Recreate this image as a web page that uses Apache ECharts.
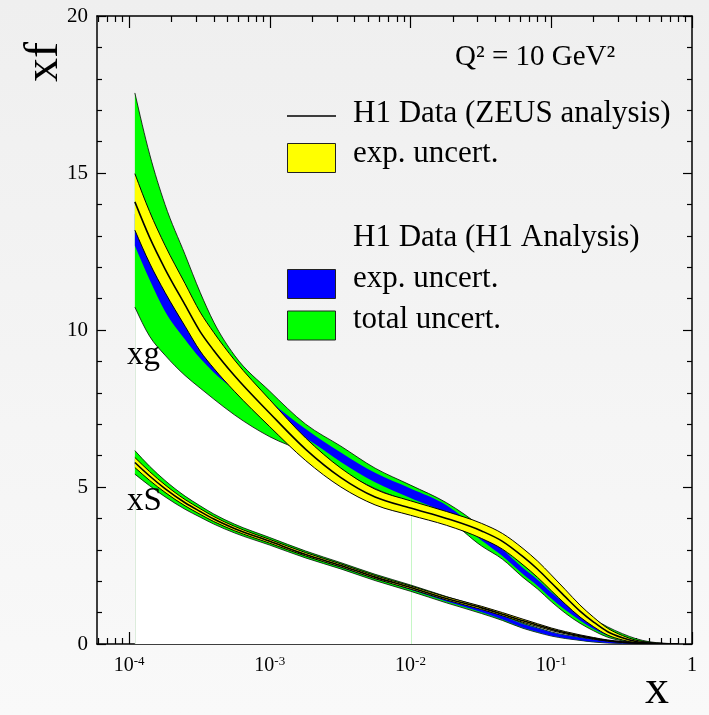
<!DOCTYPE html>
<html>
<head>
<meta charset="utf-8">
<script src="https://cdn.jsdelivr.net/npm/echarts@6/dist/echarts.min.js"></script>
<style>
html, body { margin: 0; padding: 0; }
body { width: 709px; height: 715px; background: linear-gradient(#efefef, #f9f9f9); }
#chart { width: 709px; height: 715px; }
</style>
</head>
<body>
<div id="chart"></div>
<script>
// Parton distributions at Q^2 = 10 GeV^2
const xValues = [1.1e-4, 1.4e-4, 1.8e-4, 2.5e-4, 3.2e-4, 4e-4, 5.6e-4, 1e-3, 1.8e-3, 3.2e-3, 5.6e-3, 1e-2,
  1.8e-2, 3.2e-2, 4.5e-2, 6.3e-2, 8e-2, 0.1, 0.126, 0.16, 0.2, 0.25, 0.32, 0.4, 0.5, 0.63, 0.8];

// gluon xg: ZEUS-style analysis (central + exp. band), H1 analysis (exp. and total bands)
const xgCentral = [14.08, 12.95, 11.95, 10.8, 9.95, 9.35, 8.55, 7.35, 6.2, 5.3, 4.68, 4.33, 4.0, 3.6, 3.27, 2.78, 2.38, 1.95, 1.5, 1.05, 0.7, 0.4, 0.2, 0.08, 0.03, 0.01, 0.003];
const xgZeusUp  = [14.98, 13.77, 12.7, 11.48, 10.57, 9.92, 9.05, 7.78, 6.56, 5.6, 4.93, 4.56, 4.22, 3.84, 3.52, 3.04, 2.64, 2.2, 1.73, 1.24, 0.85, 0.51, 0.27, 0.12, 0.05, 0.018, 0.006];
const xgZeusLo  = [13.18, 12.13, 11.2, 10.12, 9.33, 8.78, 8.05, 6.92, 5.84, 5.0, 4.43, 4.1, 3.78, 3.36, 3.02, 2.52, 2.12, 1.7, 1.27, 0.86, 0.55, 0.29, 0.13, 0.04, 0.01, 0.003, 0.001];
const xgTotUp   = [17.55, 15.6, 14.0, 12.4, 11.2, 10.25, 9.2, 8.05, 7.0, 6.3, 5.6, 5.06, 4.5, 3.72, 3.15, 2.55, 2.15, 1.75, 1.38, 1.05, 0.8, 0.55, 0.33, 0.17, 0.07, 0.025, 0.008];
const xgExpUp   = [13.7, 12.65, 11.7, 10.7, 10.0, 9.5, 8.85, 7.75, 6.85, 6.1, 5.45, 4.95, 4.42, 3.55, 3.02, 2.42, 2.05, 1.65, 1.27, 0.92, 0.62, 0.38, 0.2, 0.09, 0.03, 0.01, 0.003];
const xgExpLo   = [12.68, 11.6, 10.6, 9.7, 9.1, 8.65, 8.1, 7.15, 6.55, 5.8, 5.15, 4.65, 4.15, 3.3, 2.8, 2.22, 1.85, 1.45, 1.08, 0.75, 0.48, 0.27, 0.13, 0.05, 0.015, 0.004, 0.001];
const xgTotLo   = [10.73, 9.8, 9.2, 8.55, 8.15, 7.8, 7.3, 6.6, 6.1, 5.5, 4.95, 4.5, 4.0, 3.12, 2.7, 2.12, 1.75, 1.35, 0.98, 0.66, 0.42, 0.22, 0.1, 0.04, 0.01, 0.002, 0];

// sea quarks xS
const xsCentral = [5.78, 5.35, 4.95, 4.5, 4.22, 3.98, 3.68, 3.27, 2.85, 2.5, 2.13, 1.8, 1.45, 1.15, 0.95, 0.74, 0.6, 0.47, 0.36, 0.26, 0.18, 0.11, 0.06, 0.03, 0.012, 0.004, 0.001];
const xsZeusUp  = [5.94, 5.49, 5.07, 4.6, 4.31, 4.06, 3.75, 3.33, 2.91, 2.55, 2.18, 1.85, 1.5, 1.2, 1.0, 0.79, 0.645, 0.51, 0.395, 0.29, 0.205, 0.13, 0.075, 0.04, 0.017, 0.006, 0.002];
const xsZeusLo  = [5.62, 5.21, 4.83, 4.4, 4.13, 3.9, 3.61, 3.21, 2.8, 2.45, 2.08, 1.75, 1.4, 1.1, 0.9, 0.69, 0.555, 0.43, 0.325, 0.23, 0.155, 0.09, 0.045, 0.02, 0.007, 0.002, 0];
const xsTotUp   = [6.16, 5.66, 5.21, 4.71, 4.4, 4.14, 3.82, 3.39, 2.96, 2.59, 2.22, 1.88, 1.51, 1.17, 0.93, 0.66, 0.515, 0.385, 0.285, 0.205, 0.138, 0.09, 0.057, 0.028, 0.011, 0.004, 0.002];
const xsExpUp   = [5.9, 5.45, 5.04, 4.58, 4.29, 4.05, 3.74, 3.32, 2.9, 2.54, 2.17, 1.83, 1.465, 1.13, 0.9, 0.64, 0.5, 0.375, 0.275, 0.198, 0.132, 0.085, 0.053, 0.026, 0.01, 0.0035, 0.0018];
const xsExpLo   = [5.66, 5.25, 4.86, 4.42, 4.15, 3.92, 3.62, 3.22, 2.8, 2.44, 2.07, 1.73, 1.355, 1.01, 0.78, 0.52, 0.38, 0.265, 0.185, 0.122, 0.068, 0.035, 0.017, 0.006, 0.002, 0.0005, 0.0002];
const xsTotLo   = [5.41, 5.04, 4.69, 4.29, 4.04, 3.82, 3.54, 3.15, 2.74, 2.39, 2.02, 1.68, 1.31, 0.97, 0.75, 0.5, 0.365, 0.255, 0.175, 0.115, 0.062, 0.03, 0.013, 0.004, 0.001, 0, 0];

// axis ticks
const xMin = 5.92e-5;
const xMax = 1;
const xMajorTicks = [1e-4, 1e-3, 1e-2, 1e-1, 1];
const xDecades = [1e-5, 1e-4, 1e-3, 1e-2, 1e-1];
const xMinorSteps = [2, 3, 4, 5, 6, 7, 8, 9];
const xMinorTicks = [];
xDecades.forEach(d => xMinorSteps.forEach(m => { const v = d * m; if (v > xMin && v < xMax) xMinorTicks.push(v); }));
const yTickLabels = [0, 5, 10, 15, 20];

// faint seams of the white area (grid points where the fill was split)
const seamIndices = [0, 11];

const FONT = 'Liberation Serif';
const GREEN = '#00ff00', BLUE = '#0000ff', YELLOW = '#ffff00', WHITE = '#ffffff';

// ---- smooth curve helpers (monotone cubic through pixel points) ----
function sgn(v) { return v < 0 ? -1 : 1; }
function tangents(P) {
  const n = P.length, t = new Array(n);
  for (let i = 1; i < n - 1; i++) {
    const h0 = P[i][0] - P[i - 1][0], h1 = P[i + 1][0] - P[i][0];
    const s0 = (P[i][1] - P[i - 1][1]) / h0, s1 = (P[i + 1][1] - P[i][1]) / h1;
    const p = (s0 * h1 + s1 * h0) / (h0 + h1);
    t[i] = (sgn(s0) + sgn(s1)) * Math.min(Math.abs(s0), Math.abs(s1), 0.5 * Math.abs(p)) || 0;
  }
  const hA = P[1][0] - P[0][0];
  t[0] = hA ? (3 * (P[1][1] - P[0][1]) / hA - t[1]) / 2 : t[1];
  const hB = P[n - 1][0] - P[n - 2][0];
  t[n - 1] = hB ? (3 * (P[n - 1][1] - P[n - 2][1]) / hB - t[n - 2]) / 2 : t[n - 2];
  return t;
}
// bezier segments from point i to i+1
function segments(P) {
  const t = tangents(P), segs = [];
  for (let i = 0; i < P.length - 1; i++) {
    const dx = (P[i + 1][0] - P[i][0]) / 3;
    segs.push([P[i], [P[i][0] + dx, P[i][1] + dx * t[i]], [P[i + 1][0] - dx, P[i + 1][1] - dx * t[i + 1]], P[i + 1]]);
  }
  return segs;
}
const f = v => v.toFixed(2);
function forwardPath(segs) {
  let d = '';
  segs.forEach(s => { d += ' C' + f(s[1][0]) + ',' + f(s[1][1]) + ' ' + f(s[2][0]) + ',' + f(s[2][1]) + ' ' + f(s[3][0]) + ',' + f(s[3][1]); });
  return d;
}
function backwardPath(segs) {
  let d = '';
  for (let i = segs.length - 1; i >= 0; i--) {
    const s = segs[i];
    d += ' C' + f(s[2][0]) + ',' + f(s[2][1]) + ' ' + f(s[1][0]) + ',' + f(s[1][1]) + ' ' + f(s[0][0]) + ',' + f(s[0][1]);
  }
  return d;
}
function curvePts(api, ys) { return xValues.map((x, i) => api.coord([x, ys[i]])); }
function openCurve(api, ys) {
  const P = curvePts(api, ys);
  return 'M' + f(P[0][0]) + ',' + f(P[0][1]) + forwardPath(segments(P));
}
function closedBand(api, up, lo) {
  const U = curvePts(api, up), L = curvePts(api, lo);
  return 'M' + f(U[0][0]) + ',' + f(U[0][1]) + forwardPath(segments(U)) +
    ' L' + f(L[L.length - 1][0]) + ',' + f(L[L.length - 1][1]) + backwardPath(segments(L)) + ' Z';
}
function strokeEl(d, w) {
  return { type: 'path', shape: { pathData: d }, style: { fill: 'none', stroke: '#000', lineWidth: w, lineJoin: 'round' } };
}

// one custom series per band: fill plus optional outlines / central curve
function bandSeries(id, up, lo, color, edge, central) {
  return {
    type: 'custom', name: id, coordinateSystem: 'cartesian2d', xAxisIndex: 0, yAxisIndex: 0,
    silent: true, animation: false, clip: true,
    data: [[xValues[0], lo[0]]],
    renderItem: (params, api) => {
      const children = [{ type: 'path', shape: { pathData: closedBand(api, up, lo) }, style: { fill: color, stroke: 'none' } }];
      if (edge) {
        children.push(strokeEl(openCurve(api, up), edge));
        children.push(strokeEl(openCurve(api, lo), edge));
      }
      if (central) children.push(strokeEl(openCurve(api, central), 1.6));
      return { type: 'group', children: children };
    }
  };
}
const zeroLine = xValues.map(() => 0);

// light vertical seams inside the white area
const seamSeries = {
  type: 'custom', name: 'seams', coordinateSystem: 'cartesian2d', xAxisIndex: 0, yAxisIndex: 0,
  silent: true, animation: false, clip: true,
  data: seamIndices.map(i => [xValues[i], xgTotLo[i]]),
  renderItem: (params, api) => {
    const top = api.coord([api.value(0), api.value(1)]);
    const bottom = api.coord([api.value(0), 0]);
    const x = Math.round(top[0]) + 0.5;
    return {
      type: 'line', shape: { x1: x, y1: top[1], x2: x, y2: bottom[1] },
      style: { stroke: params.dataIndex === 0 ? '#dcecdc' : '#c6f7c6', lineWidth: 1 }
    };
  }
};

const series = [
  bandSeries('under-xg', xgTotLo, zeroLine, WHITE, 0),
  seamSeries,
  bandSeries('xg-total', xgTotUp, xgTotLo, GREEN, 0.8),
  bandSeries('xg-exp', xgExpUp, xgExpLo, BLUE, 0),
  bandSeries('xg-zeus', xgZeusUp, xgZeusLo, YELLOW, 1, xgCentral),
  bandSeries('xS-total', xsTotUp, xsTotLo, GREEN, 0.8),
  bandSeries('xS-exp', xsExpUp, xsExpLo, BLUE, 0),
  bandSeries('xS-zeus', xsZeusUp, xsZeusLo, YELLOW, 1, xsCentral)
];

const axisLineStyle = { show: true, onZero: false, lineStyle: { color: '#000', width: 1.5 } };
const tickLine = { color: '#000', width: 1.2 };
function xAxisDef(position, ticks, length, withLine, withLabels) {
  return {
    type: 'log', logBase: 10, min: xMin, max: xMax, position: position,
    axisLine: withLine ? axisLineStyle : { show: false, onZero: false },
    axisTick: { show: true, inside: true, length: length, lineStyle: tickLine, customValues: ticks },
    minorTick: { show: false },
    splitLine: { show: false },
    axisLabel: withLabels ? {
      show: true, customValues: xMajorTicks, margin: 11, color: '#000',
      formatter: v => {
        const e = Math.round(Math.log10(v));
        return e === 0 ? '{b|1}' : '{b|10}{s|' + e + '}';
      },
      rich: {
        b: { fontFamily: FONT, fontSize: 20, lineHeight: 22, color: '#000' },
        s: { fontFamily: FONT, fontSize: 13, lineHeight: 10, verticalAlign: 'top', color: '#000' }
      }
    } : { show: false }
  };
}
function yAxisDef(position, withLabels) {
  return {
    type: 'value', min: 0, max: 20, interval: 5, position: position,
    axisLine: axisLineStyle,
    axisTick: { show: true, inside: true, length: 9, lineStyle: tickLine },
    minorTick: { show: true, splitNumber: 5, length: 5, lineStyle: tickLine },
    splitLine: { show: false },
    axisLabel: withLabels ? {
      show: true, margin: 9, color: '#000', fontFamily: FONT, fontSize: 21,
      formatter: v => (yTickLabels.indexOf(v) >= 0 ? String(v) : '')
    } : { show: false }
  };
}

const mid = 0.34;
function label(text, x, baseline, size, extra) {
  return Object.assign({
    type: 'text', x: x, y: baseline - mid * size, z: 100, silent: true,
    style: { text: text, fontFamily: FONT, fontSize: size, fill: '#000', align: 'left', verticalAlign: 'middle' }
  }, extra || {});
}

const graphic = [
  label('Q\u00b2 = 10 GeV\u00b2', 455, 67, 29),
  { type: 'line', z: 100, silent: true, shape: { x1: 287, y1: 116, x2: 336, y2: 116 }, style: { stroke: '#000', lineWidth: 1.5 } },
  label('H1 Data (ZEUS analysis)', 353, 124, 31),
  { type: 'rect', z: 100, silent: true, shape: { x: 287.5, y: 143.5, width: 48, height: 29 }, style: { fill: YELLOW, stroke: '#222', lineWidth: 1 } },
  label('exp. uncert.', 353, 164, 31),
  label('H1 Data (H1 Analysis)', 353, 248, 31),
  { type: 'rect', z: 100, silent: true, shape: { x: 287.5, y: 269.5, width: 48, height: 29 }, style: { fill: BLUE, stroke: '#222', lineWidth: 1 } },
  label('exp. uncert.', 353, 289, 31),
  { type: 'rect', z: 100, silent: true, shape: { x: 287.5, y: 311, width: 48, height: 29 }, style: { fill: GREEN, stroke: '#222', lineWidth: 1 } },
  label('total uncert.', 353, 330, 31),
  label('xg', 127, 367, 33),
  label('xS', 127, 513, 33),
  label('x', 645, 707, 48),
  {
    type: 'text', x: 44, y: 82, rotation: Math.PI / 2, z: 100, silent: true,
    style: { text: 'xf', fontFamily: FONT, fontSize: 48, fill: '#000', align: 'left', verticalAlign: 'middle' }
  }
];

const chart = echarts.init(document.getElementById('chart'), null, { renderer: 'canvas' });
chart.setOption({
  backgroundColor: 'transparent',
  animation: false,
  grid: { left: 97, top: 16, right: 17, bottom: 71, containLabel: false },
  xAxis: [
    xAxisDef('bottom', xMajorTicks, 12, true, true),
    xAxisDef('bottom', xMinorTicks, 6, false, false),
    xAxisDef('top', xMajorTicks, 12, true, false),
    xAxisDef('top', xMinorTicks, 6, false, false)
  ],
  yAxis: [yAxisDef('left', true), yAxisDef('right', false)],
  series: series,
  graphic: graphic
});
</script>
</body>
</html>
